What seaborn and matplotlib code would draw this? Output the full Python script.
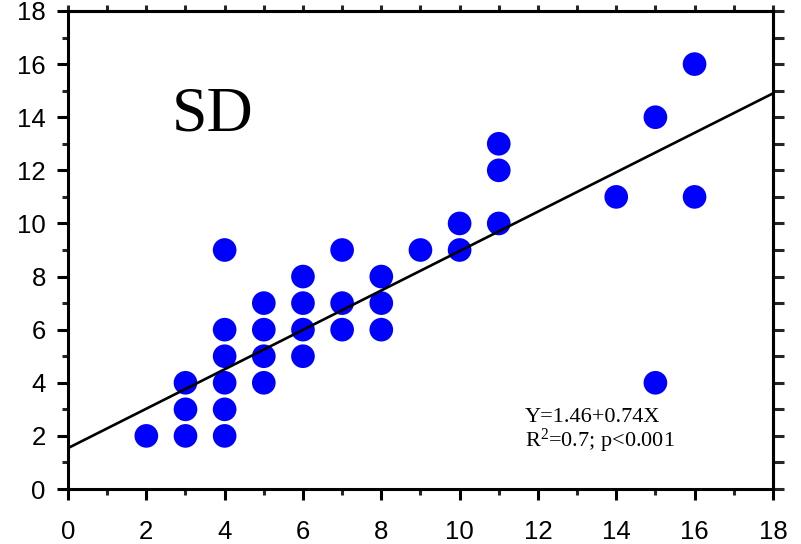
import matplotlib
matplotlib.use("Agg")
import matplotlib.pyplot as plt
import seaborn as sns
import numpy as np
import pandas as pd
from matplotlib.ticker import MultipleLocator

x_vals = [2, 3, 3, 3, 4, 4, 4, 4, 4, 4, 5, 5, 5, 5, 6, 6, 6, 6, 7, 7, 7,
          8, 8, 8, 9, 10, 10, 11, 11, 11, 14, 15, 15, 16, 16]
y_vals = [2, 2, 3, 4, 2, 3, 4, 5, 6, 9, 4, 5, 6, 7, 5, 6, 7, 8, 6, 7, 9,
          6, 7, 8, 9, 9, 10, 10, 12, 13, 11, 4, 14, 11, 16]
intercept = 1.54
slope = 0.742
label_title = "SD"
eq_text = "Y=1.46+0.74X"
r2_text = "R$^{2}$=0.7; p<0.001"

df = pd.DataFrame({"x": x_vals, "y": y_vals})

sns.set_style("white")
plt.rcParams["font.family"] = ["Liberation Sans", "DejaVu Sans"]
plt.rcParams["text.color"] = "black"
plt.rcParams["mathtext.fontset"] = "custom"
plt.rcParams["mathtext.rm"] = "Liberation Serif"
plt.rcParams["mathtext.default"] = "rm"

fig = plt.figure(figsize=(8.01, 5.44), dpi=100)
ax = fig.add_axes([0.0849, 0.1011, 0.88, 0.8787])

sns.scatterplot(data=df, x="x", y="y", ax=ax, color="#0000ff", s=290,
                edgecolor="none", linewidth=0, zorder=3)
xl = np.array([0, 18])
sns.lineplot(x=xl, y=intercept + slope * xl, ax=ax, color="black", lw=1.9, zorder=4)

ax.set_xlim(0, 18)
ax.set_ylim(0, 18)
ax.set_xlabel("")
ax.set_ylabel("")
ax.xaxis.set_major_locator(MultipleLocator(2))
ax.xaxis.set_minor_locator(MultipleLocator(1))
ax.yaxis.set_major_locator(MultipleLocator(2))
ax.yaxis.set_minor_locator(MultipleLocator(1))
for s in ax.spines.values():
    s.set_linewidth(2.2)
    s.set_color("black")
ax.tick_params(which="major", direction="out", length=8, width=2.2, labelsize=18.5,
               colors="black", labelcolor="black",
               bottom=True, left=True, top=False, right=False)
ax.tick_params(axis="x", which="major", pad=14)
ax.tick_params(axis="y", which="major", pad=8)
ax.tick_params(which="minor", direction="out", length=4.5, width=2.2,
               bottom=True, left=True, top=False, right=False)

secx = ax.secondary_xaxis("top")
secx.xaxis.set_major_locator(MultipleLocator(1))
secx.tick_params(direction="out", length=4, width=2.2, labeltop=False)
secx.spines["top"].set_linewidth(2.2)
secy = ax.secondary_yaxis("right")
secy.yaxis.set_major_locator(MultipleLocator(1))
secy.tick_params(direction="out", length=8, width=2.2, labelright=False)
secy.spines["right"].set_linewidth(2.2)

ax.text(2.66, 13.5, label_title, fontsize=46, family=["Liberation Serif"],
        color="black", ha="left", va="baseline")
ax.text(11.66, 2.52, eq_text, fontsize=16, family=["Liberation Serif"],
        color="black", ha="left", va="baseline")
ax.text(11.66, 1.58, r2_text, fontsize=16, family=["Liberation Serif"],
        color="black", ha="left", va="baseline")

fig.savefig("out.png", dpi=100)
